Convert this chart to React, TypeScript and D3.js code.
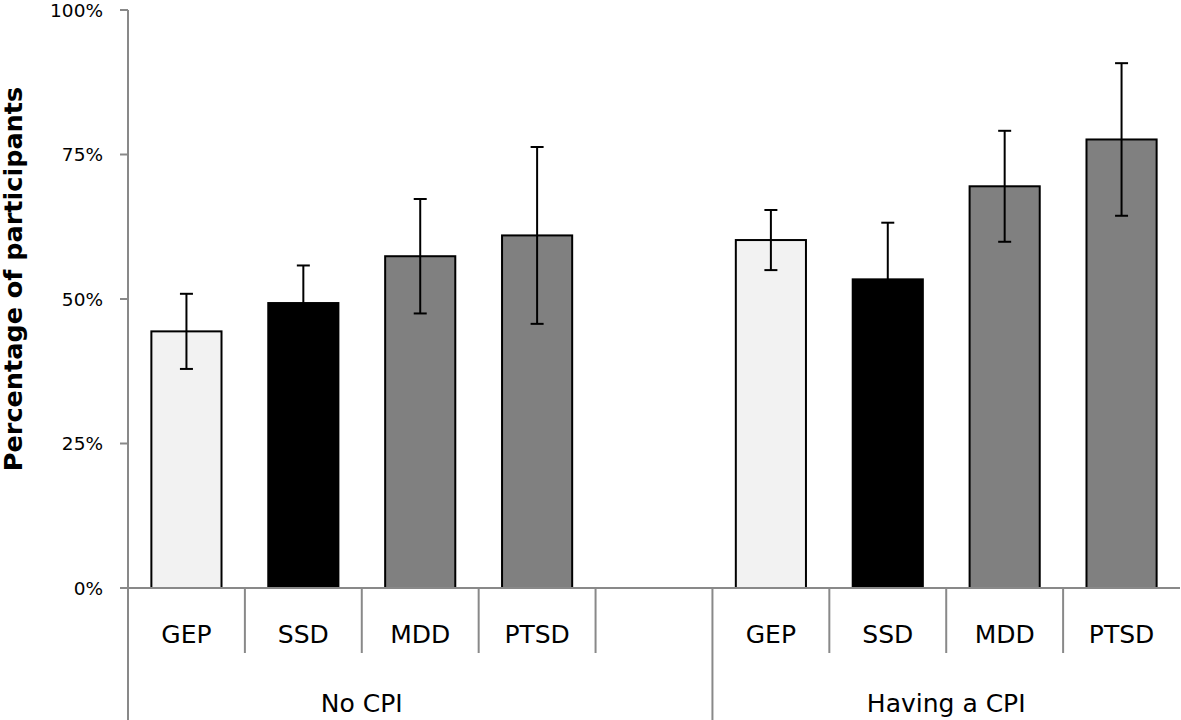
import React from "react";
import * as d3 from "d3";

const groups = ["No CPI", "Having a CPI"];
const disorders = ["GEP", "SSD", "MDD", "PTSD"];
const noCpiValues = [44.4, 49.3, 57.4, 61.0];
const noCpiErrors = [6.5, 6.5, 9.9, 15.3];
const cpiValues = [60.2, 53.4, 69.5, 77.6];
const cpiErrors = [5.2, 9.8, 9.6, 13.2];
const fills = ["#f2f2f2", "#000000", "#808080", "#808080"];
const yTicks = [0, 25, 50, 75, 100];

const W = 1181;
const H = 720;
const left = 128;
const right = 1180;
const top = 10;
const bottom = 588;

export default function App() {
  // 9 slots: 4 disorders, blank, 4 disorders
  const slots = [
    ...disorders.map((d) => `0-${d}`),
    "gap",
    ...disorders.map((d) => `1-${d}`),
  ];
  const x = d3.scaleBand<string>().domain(slots).range([left, right]).paddingInner(0).paddingOuter(0);
  const y = d3.scaleLinear().domain([0, 100]).range([bottom, top]);
  const bw = x.bandwidth() * 0.6;

  const bars = [
    ...disorders.map((d, i) => ({ key: `0-${d}`, label: d, v: noCpiValues[i], e: noCpiErrors[i], fill: fills[i] })),
    ...disorders.map((d, i) => ({ key: `1-${d}`, label: d, v: cpiValues[i], e: cpiErrors[i], fill: fills[i] })),
  ];

  const font = "'DejaVu Sans', sans-serif";
  const axisColor = "#898989";
  const catBottom = 653;
  const groupStarts = [x("0-GEP")!, x("1-GEP")!];
  const groupEnds = [x("gap")!, right];

  return (
    <svg width={W} height={H} style={{ position: "absolute", left: 0, top: 0 }} fontFamily={font}>
      {/* y axis */}
      <line x1={left} x2={left} y1={top} y2={bottom} stroke={axisColor} strokeWidth={2} />
      {yTicks.map((t) => (
        <g key={t}>
          <line x1={left - 8} x2={left} y1={y(t)} y2={y(t)} stroke={axisColor} strokeWidth={2} />
          <text x={103} y={y(t)} dy="0.36em" textAnchor="end" fontSize={18.5} fill="#000">
            {t}%
          </text>
        </g>
      ))}
      <text
        transform={`translate(22,279) rotate(-90)`}
        textAnchor="middle"
        fontSize={25.5}
        fontWeight="bold"
        fill="#000"
      >
        Percentage of participants
      </text>

      {/* bars */}
      {bars.map((b) => {
        const cx = x(b.key)! + x.bandwidth() / 2;
        return (
          <g key={b.key}>
            <rect
              x={cx - bw / 2}
              y={y(b.v)}
              width={bw}
              height={y(0) - y(b.v)}
              fill={b.fill}
              stroke="#000"
              strokeWidth={2}
            />
            <line x1={cx} x2={cx} y1={y(b.v + b.e)} y2={y(b.v - b.e)} stroke="#000" strokeWidth={2} />
            <line x1={cx - 6.5} x2={cx + 6.5} y1={y(b.v + b.e)} y2={y(b.v + b.e)} stroke="#000" strokeWidth={2} />
            <line x1={cx - 6.5} x2={cx + 6.5} y1={y(b.v - b.e)} y2={y(b.v - b.e)} stroke="#000" strokeWidth={2} />
          </g>
        );
      })}

      {/* x axis */}
      <line x1={left - 8} x2={right} y1={bottom} y2={bottom} stroke={axisColor} strokeWidth={2} />
      {slots.map((s, i) => {
        const x0 = x(s)!;
        const isGroupStart = i === 0 || s === "1-GEP";
        return (
          <line
            key={`sep-${s}`}
            x1={x0}
            x2={x0}
            y1={bottom}
            y2={isGroupStart ? H : catBottom}
            stroke={axisColor}
            strokeWidth={2}
          />
        );
      })}
      {bars.map((b) => (
        <text
          key={`lab-${b.key}`}
          x={x(b.key)! + x.bandwidth() / 2}
          y={634}
          dy="0.36em"
          textAnchor="middle"
          fontSize={25}
          fill="#000"
        >
          {b.label}
        </text>
      ))}
      {groups.map((g, i) => (
        <text
          key={g}
          x={(groupStarts[i] + groupEnds[i]) / 2}
          y={703}
          dy="0.36em"
          textAnchor="middle"
          fontSize={25}
          fill="#000"
        >
          {g}
        </text>
      ))}
    </svg>
  );
}
